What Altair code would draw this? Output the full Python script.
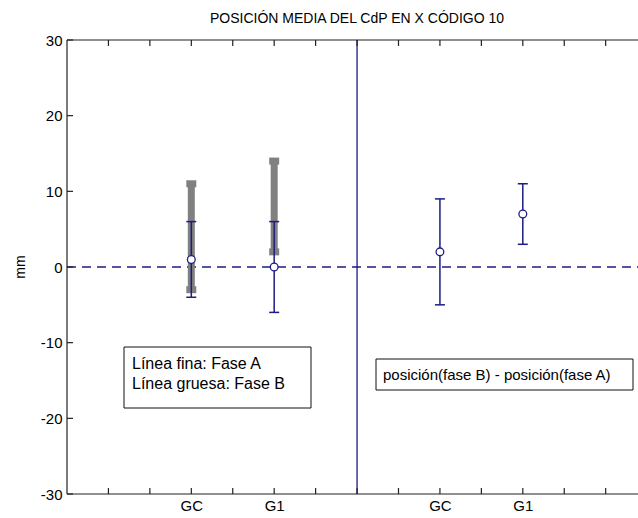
import altair as alt
import pandas as pd

# Groups and where they sit on the x axis (left half: phases, right half: difference)
groups = ["GC", "G1"]
left_pos = [3, 5]
right_pos = [9, 11]

# Fase A (thin line): mean and range
fase_a_mean = [1, 0]
fase_a_low = [-4, -6]
fase_a_high = [6, 6]

# Fase B (thick line): range
fase_b_low = [-3, 2]
fase_b_high = [11, 14]

# posición(fase B) - posición(fase A)
diff_mean = [2, 7]
diff_low = [-5, 3]
diff_high = [9, 11]

x_ticks = list(range(1, 14))
y_ticks = [-30, -20, -10, 0, 10, 20, 30]
x_domain = [0, 13.78]
y_domain = [-30, 30]
divider_x = 7
zero_level = 0

NAVY = "#1c1c84"
GRAY = "#808080"
FONT = "Liberation Sans"
W, H = 571, 454

xs = alt.Scale(domain=x_domain, nice=False, zero=False)
ys = alt.Scale(domain=y_domain, nice=False, zero=False)

label_pos = left_pos + right_pos
label_txt = groups + groups
label_expr = " : ".join(
    f"datum.value == {p} ? '{t}'" for p, t in zip(label_pos, label_txt)
) + " : ''"

x_axis = alt.Axis(values=label_pos, labelExpr=label_expr, tickSize=0, domain=False,
                  grid=False, labelFont=FONT, labelFontSize=15, labelColor="#000",
                  labelPadding=4, title=None)
# plain hyphen for negative numbers
y_axis = alt.Axis(values=y_ticks, labelExpr="'' + datum.value", tickSize=0, domain=False,
                  grid=False, labelFont=FONT, labelFontSize=15, labelColor="#000",
                  labelPadding=5, title=None)


def X(field):
    return alt.X(field, type="quantitative", scale=xs, axis=x_axis)


def Y(field):
    return alt.Y(field, type="quantitative", scale=ys, axis=y_axis)


thin = pd.DataFrame({
    "pos": left_pos + right_pos,
    "mean": fase_a_mean + diff_mean,
    "low": fase_a_low + diff_low,
    "high": fase_a_high + diff_high,
})
thick = pd.DataFrame({"pos": left_pos, "low": fase_b_low, "high": fase_b_high})
thin_caps = pd.concat([thin[["pos", "low"]].rename(columns={"low": "v"}),
                       thin[["pos", "high"]].rename(columns={"high": "v"})])
thick_caps = pd.concat([thick[["pos", "low"]].rename(columns={"low": "v"}),
                        thick[["pos", "high"]].rename(columns={"high": "v"})])
xt = pd.DataFrame({"t": x_ticks})
yt = pd.DataFrame({"v": y_ticks})
one = pd.DataFrame({"k": [0]})

# Fase B: thick gray bars with square caps
thick_bars = alt.Chart(thick).mark_rule(color=GRAY, strokeWidth=7, strokeCap="butt").encode(
    x=X("pos"), y=Y("low"), y2="high")
thick_cap = alt.Chart(thick_caps).mark_tick(color=GRAY, orient="horizontal", size=10,
                                            thickness=7, opacity=1).encode(x=X("pos"), y=Y("v"))

# Fase A and difference: thin navy error bars with open circles
thin_bars = alt.Chart(thin).mark_rule(color=NAVY, strokeWidth=1.5).encode(
    x=X("pos"), y=Y("low"), y2="high")
thin_cap = alt.Chart(thin_caps).mark_tick(color=NAVY, orient="horizontal", size=10,
                                          thickness=1.5, opacity=1).encode(x=X("pos"), y=Y("v"))
means = alt.Chart(thin).mark_point(shape="circle", filled=False, fill="white", stroke=NAVY,
                                   strokeWidth=1.3, size=60, opacity=1).encode(
    x=X("pos"), y=Y("mean"))

# Reference lines
zero_line = alt.Chart(pd.DataFrame({"z": [zero_level]})).mark_rule(
    color=NAVY, strokeWidth=1.3, strokeDash=[9, 6]).encode(
    y=Y("z"), x=alt.value(0), x2=alt.value(W))
divider = alt.Chart(pd.DataFrame({"d": [divider_x]})).mark_rule(
    color=NAVY, strokeWidth=1.3).encode(x=X("d"), y=alt.value(0), y2=alt.value(H))

# Frame and inward ticks
frame_col = "#222222"
left_line = alt.Chart(one).mark_rule(color=frame_col, strokeWidth=1.2).encode(
    x=alt.value(0), y=alt.value(0), y2=alt.value(H))
bottom_line = alt.Chart(one).mark_rule(color=frame_col, strokeWidth=1.2).encode(
    x=alt.value(0), x2=alt.value(W), y=alt.value(H))
top_line = alt.Chart(one).mark_rule(color=frame_col, strokeWidth=1.2).encode(
    x=alt.value(0), x2=alt.value(W), y=alt.value(0))
bottom_ticks = alt.Chart(xt).mark_rule(color=frame_col, strokeWidth=1.2).encode(
    x=X("t"), y=alt.value(H), y2=alt.value(H - 6))
top_ticks = alt.Chart(xt).mark_rule(color=frame_col, strokeWidth=1.2).encode(
    x=X("t"), y=alt.value(0), y2=alt.value(6))
left_ticks = alt.Chart(yt).mark_rule(color=frame_col, strokeWidth=1.2).encode(
    y=Y("v"), x=alt.value(0), x2=alt.value(6))

# Annotation boxes
box1 = alt.Chart(one).mark_rect(fill="white", stroke="#111", strokeWidth=1).encode(
    x=alt.value(57), x2=alt.value(244), y=alt.value(307), y2=alt.value(368))
box1_line1 = alt.Chart(one).mark_text(
    align="left", baseline="alphabetic", font=FONT, fontSize=16, color="#000",
    text="Línea fina: Fase A").encode(x=alt.value(65), y=alt.value(329))
box1_line2 = alt.Chart(one).mark_text(
    align="left", baseline="alphabetic", font=FONT, fontSize=16, color="#000",
    text="Línea gruesa: Fase B").encode(x=alt.value(65), y=alt.value(349))
box2 = alt.Chart(one).mark_rect(fill="white", stroke="#111", strokeWidth=1).encode(
    x=alt.value(309), x2=alt.value(566), y=alt.value(319), y2=alt.value(350))
box2_text = alt.Chart(one).mark_text(
    align="left", baseline="alphabetic", font=FONT, fontSize=15, color="#000",
    text="posición(fase B) - posición(fase A)").encode(x=alt.value(316), y=alt.value(340))

# Title and y label
title = alt.Chart(one).mark_text(
    align="center", baseline="alphabetic", font=FONT, fontSize=14, color="#000",
    text="POSICIÓN MEDIA DEL CdP EN X CÓDIGO 10").encode(x=alt.value(290), y=alt.value(-17))
ylabel = alt.Chart(one).mark_text(
    align="center", baseline="middle", font=FONT, fontSize=14, color="#000", angle=270,
    text="mm").encode(x=alt.value(-46), y=alt.value(227))

chart = alt.layer(
    zero_line, divider, thick_bars, thick_cap, thin_bars, thin_cap, means,
    left_line, bottom_line, top_line, bottom_ticks, top_ticks, left_ticks,
    box1, box1_line1, box1_line2, box2, box2_text, title, ylabel,
).properties(
    width=W, height=H,
    autosize=alt.AutoSizeParams(type="none"),
    padding={"left": 67, "top": 40, "right": 0, "bottom": 24},
    background="white",
).configure_view(stroke=None)

chart.save("out.html", embed_options={"renderer": "svg", "actions": False})
